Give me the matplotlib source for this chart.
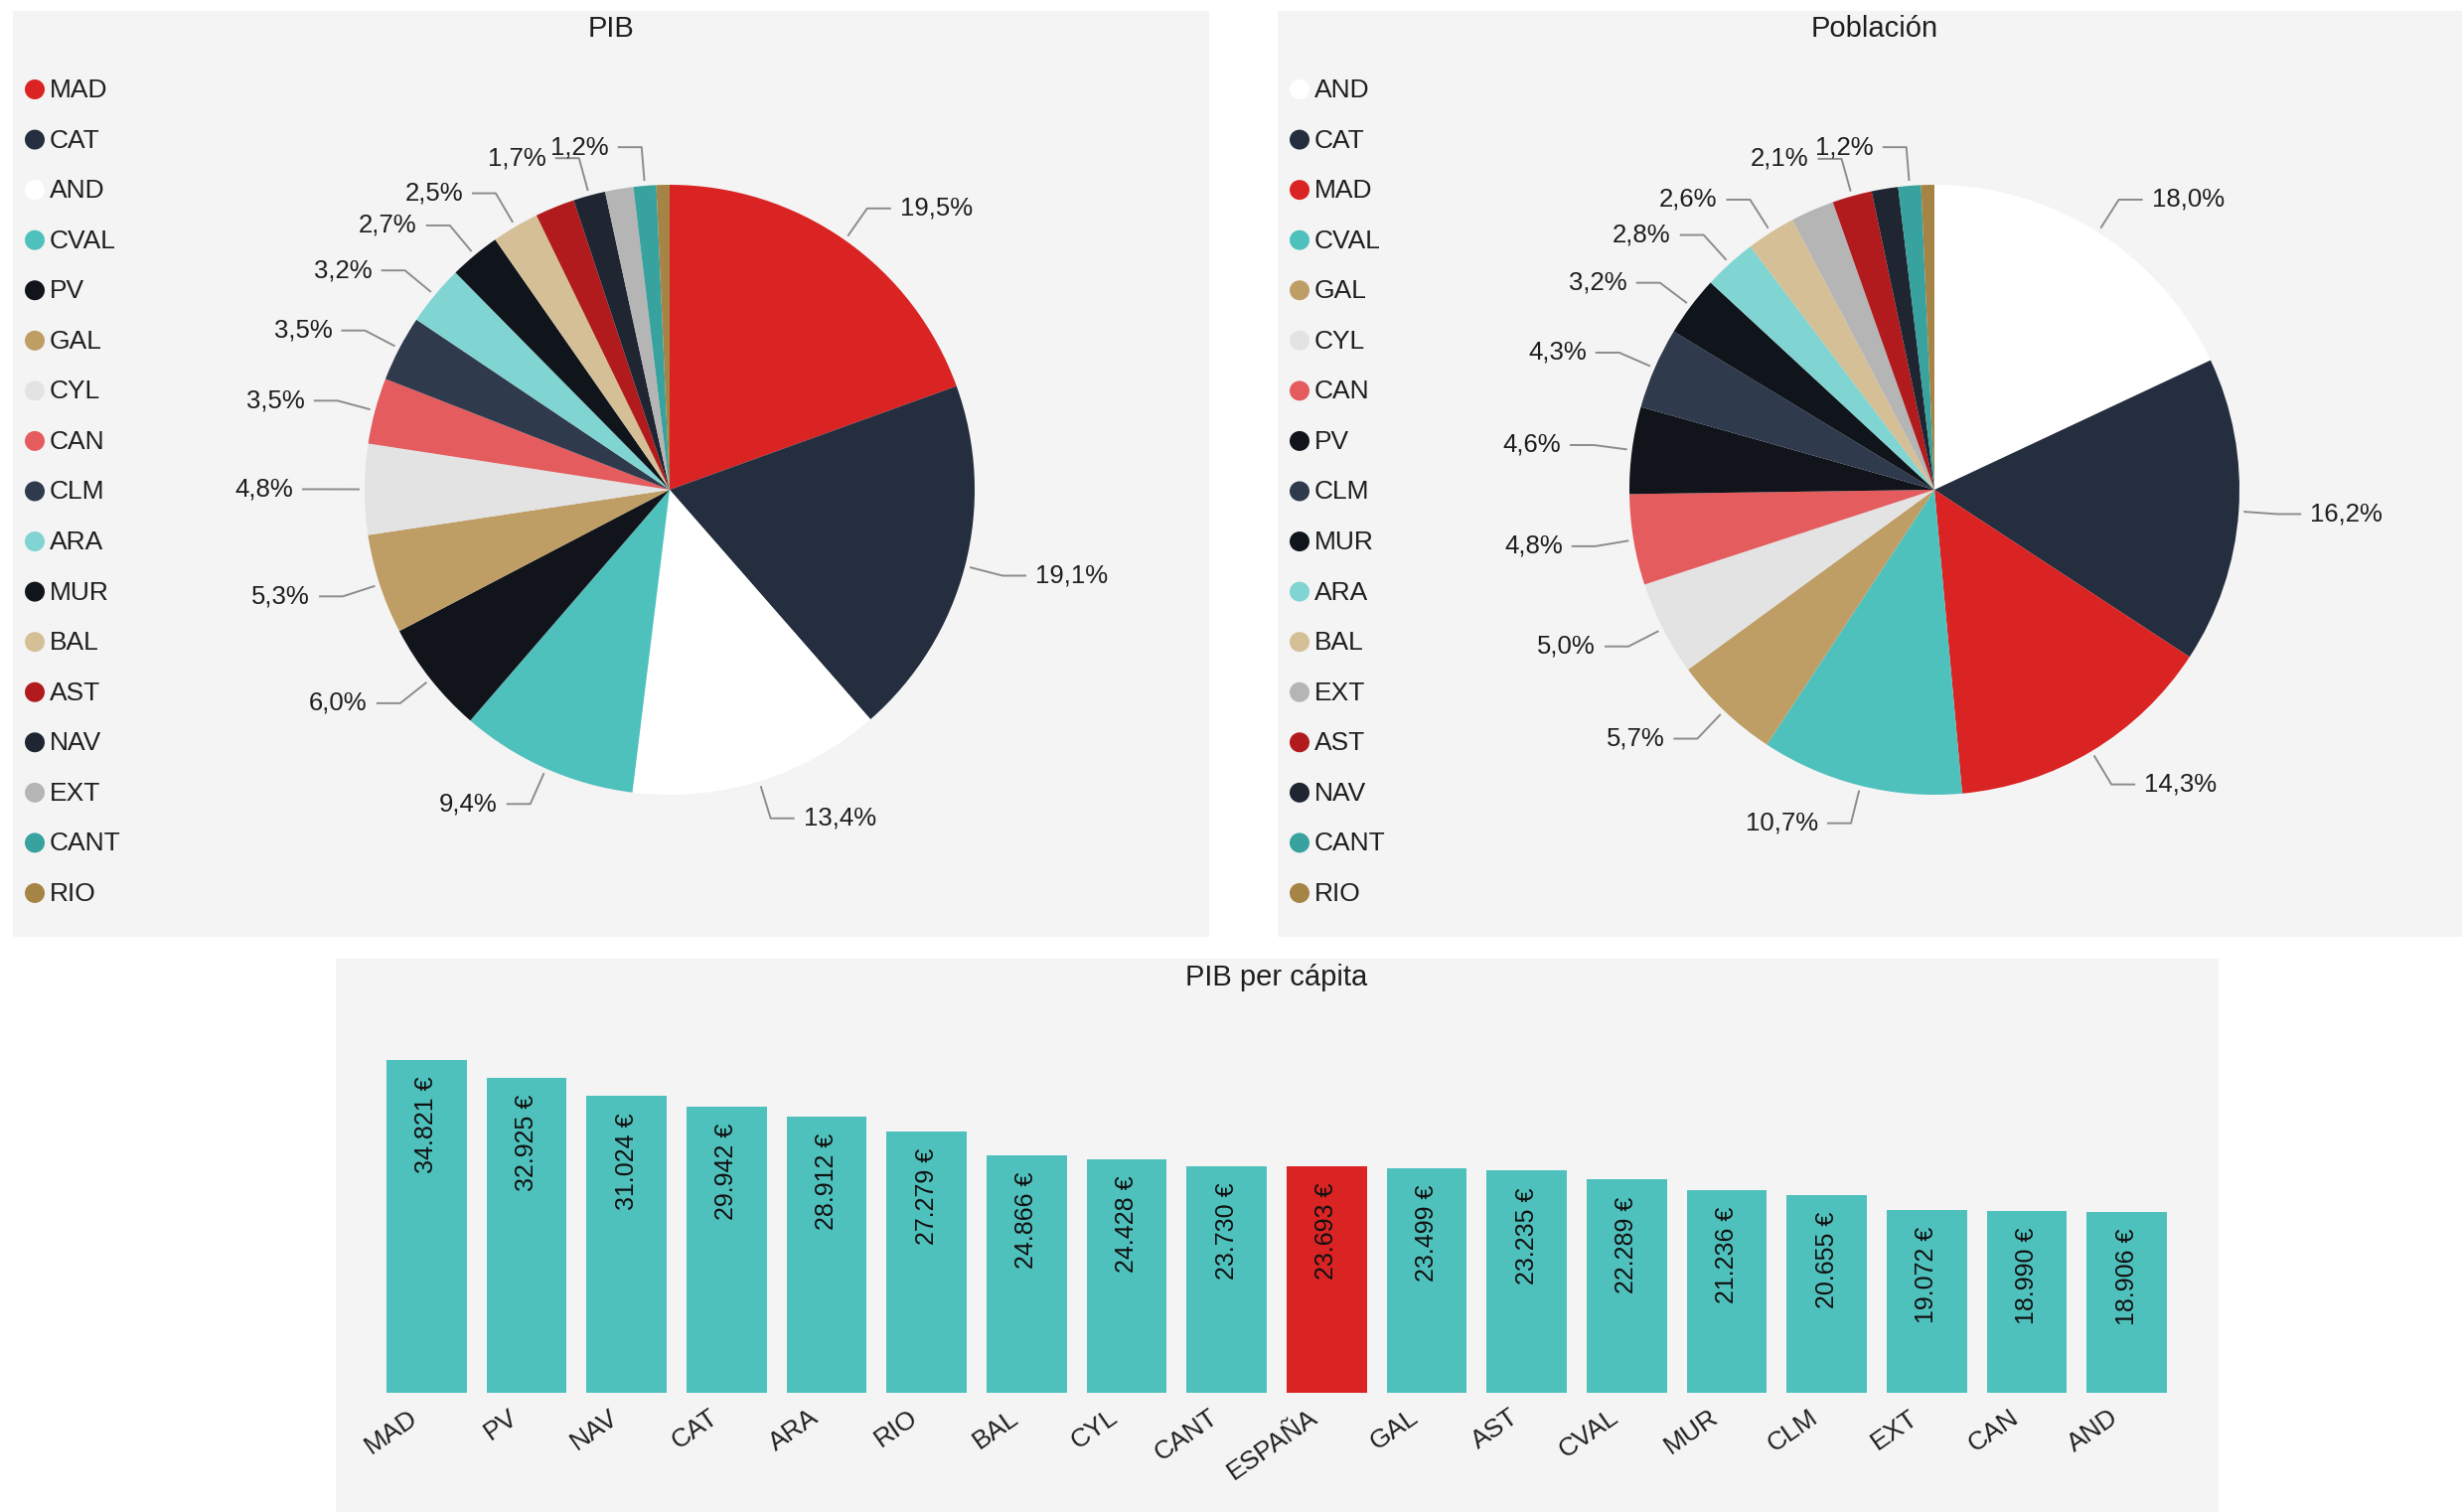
"""
PIB y población por comunidad autónoma (% del total) y PIB per cápita.
Salida : out.png (2478 x 1522 px)
"""

import matplotlib
matplotlib.use("Agg")
import matplotlib.pyplot as plt
import matplotlib.transforms as mtransforms
import numpy as np
from matplotlib.patches import Circle, Rectangle

plt.rcParams["font.family"] = ["Liberation Sans", "DejaVu Sans"]

ANCHO, ALTO = 2478, 1522
FONDO = "#f4f4f4"
TEXTO = "#1e1e1e"

COLORES = {
    "MAD": "#da2323", "CAT": "#252e3e", "AND": "#ffffff", "CVAL": "#4fc1bd",
    "PV": "#11141a", "GAL": "#bf9e66", "CYL": "#e3e3e3", "CAN": "#e45c5e",
    "CLM": "#2f3a4c", "ARA": "#80d4d1", "MUR": "#10141b", "BAL": "#d5bf97",
    "AST": "#b11b1e", "NAV": "#1f2632", "EXT": "#b5b5b5", "CANT": "#37a29e",
    "RIO": "#a68446", "ESPAÑA": "#da2323",
}

# --- datos ---
PIB_REGIONES = ["MAD", "CAT", "AND", "CVAL", "PV", "GAL", "CYL", "CAN", "CLM",
                "ARA", "MUR", "BAL", "AST", "NAV", "EXT", "CANT", "RIO"]
PIB_PCT = [19.5, 19.1, 13.4, 9.4, 6.0, 5.3, 4.8, 3.5, 3.5,
           3.2, 2.7, 2.5, 2.1, 1.7, 1.5, 1.2, 0.7]
PIB_SIN_ETIQUETA = ["AST", "EXT", "RIO"]

POB_REGIONES = ["AND", "CAT", "MAD", "CVAL", "GAL", "CYL", "CAN", "PV", "CLM",
                "MUR", "ARA", "BAL", "EXT", "AST", "NAV", "CANT", "RIO"]
POB_PCT = [18.0, 16.2, 14.3, 10.7, 5.7, 5.0, 4.8, 4.6, 4.3,
           3.2, 2.8, 2.6, 2.3, 2.1, 1.4, 1.2, 0.7]
POB_SIN_ETIQUETA = ["EXT", "NAV", "RIO"]

PC_REGIONES = ["MAD", "PV", "NAV", "CAT", "ARA", "RIO", "BAL", "CYL", "CANT",
               "ESPAÑA", "GAL", "AST", "CVAL", "MUR", "CLM", "EXT", "CAN", "AND"]
PC_EUROS = [34821, 32925, 31024, 29942, 28912, 27279, 24866, 24428, 23730,
            23693, 23499, 23235, 22289, 21236, 20655, 19072, 18990, 18906]


def Y(y):
    # coordenadas en píxeles con origen arriba
    return ALTO - y


def tarta(ax, regiones, valores, ocultas, cx, cy, r, x_leyenda):
    wedges, _ = ax.pie(valores, colors=[COLORES[k] for k in regiones],
                       startangle=90, counterclock=False, center=(cx, Y(cy)),
                       radius=r, wedgeprops=dict(linewidth=0))
    for w, nombre, v in zip(wedges, regiones, valores):
        if nombre in ocultas:
            continue
        a = np.deg2rad((w.theta1 + w.theta2) / 2)
        dx, dy = np.cos(a), np.sin(a)
        signo = 1 if dx >= 0 else -1
        x0, y0 = cx + (r + 5) * dx, Y(cy) + (r + 5) * dy
        x1, y1 = cx + (r + 39) * dx, Y(cy) + (r + 39) * dy
        x2 = x1 + signo * 24
        ax.plot([x0, x1, x2], [y0, y1, y1], color="#8c8c8c", lw=1.4,
                solid_capstyle="butt")
        ax.text(x2 + signo * 9, y1, f"{v:.1f}%".replace(".", ","),
                ha="left" if signo > 0 else "right", va="center",
                fontsize=18.5, color=TEXTO)
    for i, nombre in enumerate(regiones):
        y = Y(90 + i * 50.56)
        ax.add_patch(Circle((x_leyenda, y), 10, color=COLORES[nombre], lw=0))
        ax.text(x_leyenda + 15, y - 1, nombre, ha="left", va="center",
                fontsize=19, color=TEXTO)


fig = plt.figure(figsize=(ANCHO / 100, ALTO / 100), dpi=100, facecolor="white")
lienzo = fig.add_axes([0, 0, 1, 1])

for x0, y0, x1, y1 in [(13, 11, 1217, 943), (1286, 11, 2478, 943),
                       (338, 965, 2233, 1522)]:
    lienzo.add_patch(Rectangle((x0, Y(y1)), x1 - x0, y1 - y0,
                               facecolor=FONDO, lw=0, zorder=0))

tarta(lienzo, PIB_REGIONES, PIB_PCT, PIB_SIN_ETIQUETA, 674, 493, 307, 35)
tarta(lienzo, POB_REGIONES, POB_PCT, POB_SIN_ETIQUETA, 1947, 493, 307, 1308)

lienzo.set_xlim(0, ANCHO)
lienzo.set_ylim(0, ALTO)
lienzo.set_aspect("auto")
lienzo.axis("off")

lienzo.text(615, Y(29), "PIB", ha="center", va="center", fontsize=21, color=TEXTO)
lienzo.text(1887, Y(29), "Población", ha="center", va="center", fontsize=21,
            color=TEXTO)
lienzo.text(1285, Y(984), "PIB per cápita", ha="center", va="center",
            fontsize=21, color=TEXTO)

# --- barras PIB per cápita ---
ax = fig.add_axes([379 / ANCHO, (ALTO - 1402) / ALTO,
                   (2191 - 379) / ANCHO, (1402 - 1017) / ALTO])
ax.patch.set_alpha(0)
x = np.arange(len(PC_REGIONES))
ax.bar(x, PC_EUROS, width=0.8, color=[COLORES["ESPAÑA"] if n == "ESPAÑA"
                                      else COLORES["CVAL"] for n in PC_REGIONES])
for i, v in enumerate(PC_EUROS):
    ax.annotate(f"{v:,} €".replace(",", "."), xy=(i, v), xytext=(0, -12),
                textcoords="offset points", rotation=90, ha="center", va="top",
                fontsize=18, color="#111111")
ax.set_xlim(-0.5, len(PC_REGIONES) - 0.5)
ax.set_ylim(0, 40000)
ax.set_yticks([])
ax.set_xticks(x)
ax.set_xticklabels(PC_REGIONES, rotation=35, ha="right", rotation_mode="anchor",
                   fontsize=19, color=TEXTO)
ax.tick_params(axis="x", length=0, pad=9)
desplaza = mtransforms.ScaledTranslation(-0.18, 0, fig.dpi_scale_trans)
for etiqueta in ax.get_xticklabels():
    etiqueta.set_transform(etiqueta.get_transform() + desplaza)
for s in ax.spines.values():
    s.set_visible(False)

fig.savefig("out.png", dpi=100, facecolor="white")
